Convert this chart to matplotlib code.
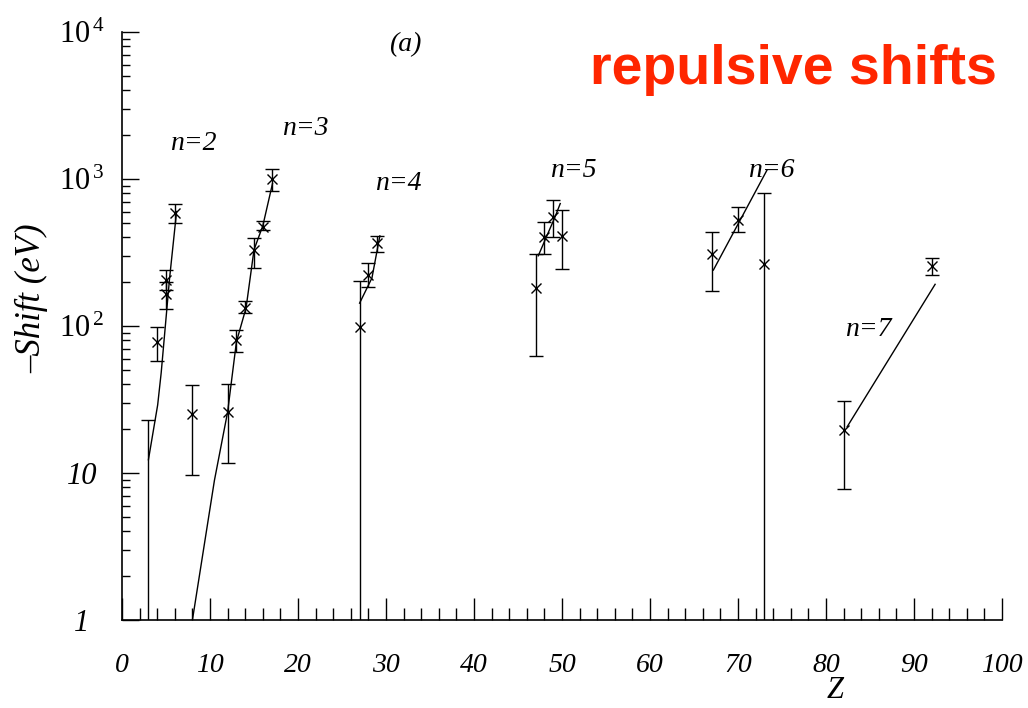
import matplotlib
matplotlib.use("Agg")
import matplotlib.pyplot as plt
from matplotlib.ticker import MultipleLocator, LogLocator, FixedLocator, NullFormatter

plt.rcParams['font.family'] = ['Liberation Serif', 'DejaVu Serif']
plt.rcParams['mathtext.fontset'] = 'custom'
plt.rcParams['mathtext.rm'] = 'Liberation Serif'
plt.rcParams['mathtext.it'] = 'Liberation Serif:italic'
plt.rcParams['mathtext.default'] = 'it'

# measured shifts (Z, value, lower, upper)
z_pts = [4, 5, 5, 6, 8, 12, 13, 14, 15, 16, 17, 27, 28, 29, 47, 48, 49, 50, 67, 70, 73, 82, 92]
shift = [78, 205, 164, 590, 25, 26, 80, 133, 330, 474, 995, 99, 222, 365, 180, 401, 550, 411, 308, 526, 265, 19.5, 256]
err_lo = [58, 175, 130, 500, 9.7, 11.7, 66, 123, 248, 449, 828, 0.9, 183, 320, 62, 308, 401, 243, 173, 433, 0.9, 7.8, 222]
err_hi = [99, 241, 200, 674, 39.5, 40, 94, 148, 398, 515, 1170, 203, 267, 410, 308, 507, 714, 611, 433, 643, 800, 31, 289]

# bar without a marked value (Z=3)
bar_z = [3]
bar_lo = [0.9]
bar_hi = [23]

# theory curves for each n
curve_z = {
    2: [3.0, 4.05, 4.45, 5.4, 6.2],
    3: [8.0, 10.5, 12.0, 13.0, 14.1, 15.0, 16.0, 17.1],
    4: [27.0, 28.4, 29.3],
    5: [47.3, 48.2, 49.2, 49.8],
    6: [67.2, 73.3],
    7: [82.4, 92.4],
}
curve_y = {
    2: [12.3, 29, 48, 210, 600],
    3: [1, 8.9, 26, 78, 133, 330, 480, 930],
    4: [143, 212, 410],
    5: [300, 400, 550, 680],
    6: [240, 1150],
    7: [20.6, 192],
}
label_pos = {2: (8.1, 1750), 3: (20.8, 2200), 4: (31.4, 930),
             5: (51.3, 1150), 6: (73.8, 1150), 7: (84.8, 94)}

fig = plt.figure(figsize=(10.28, 7.08), dpi=100)
ax = fig.add_axes([0.1187, 0.1243, 0.856, 0.8306])

yerr = [[v - lo for v, lo in zip(shift, err_lo)], [hi - v for v, hi in zip(shift, err_hi)]]
ax.errorbar(z_pts, shift, yerr=yerr, fmt='x', color='black', ms=7, mew=1.0,
            elinewidth=1.0, capsize=5, capthick=1.0)
ax.errorbar(bar_z, bar_hi, yerr=[[h - l for h, l in zip(bar_hi, bar_lo)], [0]],
            fmt='none', ecolor='black', elinewidth=1.0, capsize=5, capthick=1.0)
for n in curve_z:
    ax.plot(curve_z[n], curve_y[n], color='black', lw=1.0)
    x, y = label_pos[n]
    ax.text(x, y, "n=%d" % n, fontsize=20, style='italic', ha='center', va='center')

ax.set_yscale('log')
ax.set_xlim(0, 100)
ax.set_ylim(1, 1e4)

ax.spines['top'].set_visible(False)
ax.spines['right'].set_visible(False)
ax.spines['left'].set_linewidth(1.2)
ax.spines['bottom'].set_linewidth(1.2)

ax.xaxis.set_major_locator(MultipleLocator(10))
ax.xaxis.set_minor_locator(MultipleLocator(2))
ax.yaxis.set_major_locator(FixedLocator([1, 10, 100, 1000, 10000]))
ax.yaxis.set_minor_locator(LogLocator(base=10, subs=range(2, 10)))
ax.yaxis.set_minor_formatter(NullFormatter())
ax.set_yticklabels(['1', '10', r'$10^{\,2}$', r'$10^{\,3}$', r'$10^{\,4}$'])

ax.tick_params(axis='x', which='major', direction='in', length=16, width=1.0, pad=24, labelsize=20)
ax.tick_params(axis='x', which='minor', direction='in', length=9, width=1.0)
ax.tick_params(axis='y', which='major', direction='in', length=12, width=1.0, pad=29, labelsize=22)
ax.tick_params(axis='y', which='minor', direction='in', length=6, width=1.0)
for lab in ax.get_xticklabels() + ax.get_yticklabels():
    lab.set_fontstyle('italic')
for lab in ax.get_yticklabels():
    lab.set_horizontalalignment('center')

fig.text(32 / 1028, 1 - 298 / 708, "\u2013Shift (eV)", rotation=90, fontsize=25,
         style='italic', ha='center', va='center')
fig.text(835 / 1028, 1 - 690 / 708, "Z", fontsize=22, style='italic', ha='center', va='center')
fig.text(405 / 1028, 1 - 45 / 708, "(a)", fontsize=20, style='italic', ha='center', va='center')
fig.text(793 / 1028, 1 - 70 / 708, "repulsive shifts", fontsize=40, fontweight='bold',
         family='Liberation Sans', color='#ff2600', ha='center', va='center')

fig.savefig("out.png", dpi=100)
